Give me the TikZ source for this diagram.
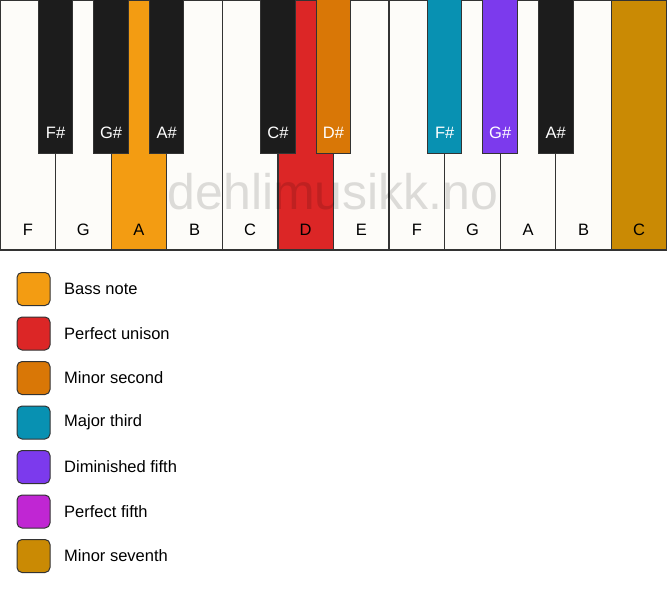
\documentclass[tikz,border=0pt]{standalone}
\usepackage{fontspec}
\setmainfont{Liberation Sans}
\definecolor{ivory}{HTML}{FDFCF9}
\definecolor{ebony}{HTML}{1C1C1C}
\definecolor{keyline}{HTML}{333333}
\definecolor{bassnote}{HTML}{F39C12}
\definecolor{unison}{HTML}{DC2626}
\definecolor{minsecond}{HTML}{D97706}
\definecolor{majthird}{HTML}{0891B2}
\definecolor{dimfifth}{HTML}{7C3AED}
\definecolor{perfifth}{HTML}{C026D3}
\definecolor{minseventh}{HTML}{CA8A04}
\tikzset{
  whitekey/.style={draw=keyline,line width=1.2pt},
  blackkey/.style={draw=keyline,line width=1pt},
  keylabel/.style={font=\fontsize{16.5}{19}\selectfont,inner sep=0pt},
  legendbox/.style={draw=keyline,line width=1pt,rounded corners=5pt,minimum size=33pt,inner sep=0pt},
  legendtext/.style={anchor=west,font=\fontsize{16.5}{19}\selectfont,inner sep=0pt}
}
\begin{document}
\begin{tikzpicture}[x=1pt,y=-1pt]
	    \useasboundingbox[fill=white](0,0) rectangle (667,594);
	    % white keys
	    \foreach \n/\c/\col in {0/F/ivory,1/G/ivory,2/A/bassnote,3/B/ivory,4/C/ivory,5/D/unison,
	      6/E/ivory,7/F/ivory,8/G/ivory,9/A/ivory,10/B/ivory,11/C/minseventh}{
	      \filldraw[whitekey,fill=\col](\n*55.58,0) rectangle ++(55.58,250);
	      \node[keylabel] (w\n) at (\n*55.58+27.79,230){\c};
	    }
	    % watermark
	    \node[font=\fontsize{50}{58}\selectfont,text=black,text opacity=.13] (mark) at (333,192){dehlimusikk.no};
	    % black keys
	    \foreach \b/\c/\col in {1/F/ebony,2/G/ebony,3/A/ebony,5/C/ebony,6/D/minsecond,
	      8/F/majthird,9/G/dimfifth,10/A/ebony}{
	      \filldraw[blackkey,fill=\col](\b*55.58-17.25,0) rectangle ++(34.5,153);
	      \node[keylabel,text=white] (b\b) at (\b*55.58,133){\c\#};
	    }
	    % legend
	    \foreach \i/\col/\txt in {0/bassnote/Bass note,1/unison/Perfect unison,2/minsecond/Minor second,
	      3/majthird/Major third,4/dimfifth/Diminished fifth,5/perfifth/Perfect fifth,6/minseventh/Minor seventh}{
	      \node[legendbox,fill=\col] (box\i) at (33.5,289+\i*44.5){};
	      \node[legendtext] (txt\i) at (64,289+\i*44.5){\txt};
	    }
\end{tikzpicture}
\end{document}
